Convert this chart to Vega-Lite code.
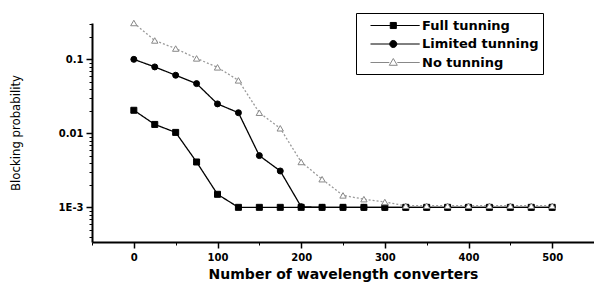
{
  "$schema": "https://vega.github.io/schema/vega-lite/v6.json",
  "autosize": "none",
  "width": 502,
  "height": 219,
  "padding": {"left": 92, "top": 23, "right": 0, "bottom": 40},
  "background": "white",
  "config": {"view": {"stroke": null}, "font": "DejaVu Sans"},
  "data": {"values": [
    {"n": 0, "p": 0.0205, "s": "Full tunning"},
    {"n": 25, "p": 0.0132, "s": "Full tunning"},
    {"n": 50, "p": 0.0103, "s": "Full tunning"},
    {"n": 75, "p": 0.0041, "s": "Full tunning"},
    {"n": 100, "p": 0.0015, "s": "Full tunning"},
    {"n": 125, "p": 0.001, "s": "Full tunning"},
    {"n": 150, "p": 0.001, "s": "Full tunning"},
    {"n": 175, "p": 0.001, "s": "Full tunning"},
    {"n": 200, "p": 0.001, "s": "Full tunning"},
    {"n": 225, "p": 0.001, "s": "Full tunning"},
    {"n": 250, "p": 0.001, "s": "Full tunning"},
    {"n": 275, "p": 0.001, "s": "Full tunning"},
    {"n": 300, "p": 0.001, "s": "Full tunning"},
    {"n": 325, "p": 0.001, "s": "Full tunning"},
    {"n": 350, "p": 0.001, "s": "Full tunning"},
    {"n": 375, "p": 0.001, "s": "Full tunning"},
    {"n": 400, "p": 0.001, "s": "Full tunning"},
    {"n": 425, "p": 0.001, "s": "Full tunning"},
    {"n": 450, "p": 0.001, "s": "Full tunning"},
    {"n": 475, "p": 0.001, "s": "Full tunning"},
    {"n": 500, "p": 0.001, "s": "Full tunning"},
    {"n": 0, "p": 0.1, "s": "Limited tunning"},
    {"n": 25, "p": 0.079, "s": "Limited tunning"},
    {"n": 50, "p": 0.061, "s": "Limited tunning"},
    {"n": 75, "p": 0.047, "s": "Limited tunning"},
    {"n": 100, "p": 0.025, "s": "Limited tunning"},
    {"n": 125, "p": 0.019, "s": "Limited tunning"},
    {"n": 150, "p": 0.005, "s": "Limited tunning"},
    {"n": 175, "p": 0.0031, "s": "Limited tunning"},
    {"n": 200, "p": 0.00102, "s": "Limited tunning"},
    {"n": 225, "p": 0.001, "s": "Limited tunning"},
    {"n": 250, "p": 0.001, "s": "Limited tunning"},
    {"n": 275, "p": 0.001, "s": "Limited tunning"},
    {"n": 300, "p": 0.001, "s": "Limited tunning"},
    {"n": 325, "p": 0.001, "s": "Limited tunning"},
    {"n": 350, "p": 0.001, "s": "Limited tunning"},
    {"n": 375, "p": 0.001, "s": "Limited tunning"},
    {"n": 400, "p": 0.001, "s": "Limited tunning"},
    {"n": 425, "p": 0.001, "s": "Limited tunning"},
    {"n": 450, "p": 0.001, "s": "Limited tunning"},
    {"n": 475, "p": 0.001, "s": "Limited tunning"},
    {"n": 500, "p": 0.001, "s": "Limited tunning"},
    {"n": 0, "p": 0.31, "s": "No tunning"},
    {"n": 25, "p": 0.18, "s": "No tunning"},
    {"n": 50, "p": 0.14, "s": "No tunning"},
    {"n": 75, "p": 0.103, "s": "No tunning"},
    {"n": 100, "p": 0.078, "s": "No tunning"},
    {"n": 125, "p": 0.052, "s": "No tunning"},
    {"n": 150, "p": 0.019, "s": "No tunning"},
    {"n": 175, "p": 0.0117, "s": "No tunning"},
    {"n": 200, "p": 0.0041, "s": "No tunning"},
    {"n": 225, "p": 0.0024, "s": "No tunning"},
    {"n": 250, "p": 0.00145, "s": "No tunning"},
    {"n": 275, "p": 0.00129, "s": "No tunning"},
    {"n": 300, "p": 0.00118, "s": "No tunning"},
    {"n": 325, "p": 0.00105, "s": "No tunning"},
    {"n": 350, "p": 0.00105, "s": "No tunning"},
    {"n": 375, "p": 0.00105, "s": "No tunning"},
    {"n": 400, "p": 0.00105, "s": "No tunning"},
    {"n": 425, "p": 0.00105, "s": "No tunning"},
    {"n": 450, "p": 0.00105, "s": "No tunning"},
    {"n": 475, "p": 0.00105, "s": "No tunning"},
    {"n": 500, "p": 0.00105, "s": "No tunning"}
  ]},
  "resolve": {"axis": {"x": "independent", "y": "independent"}, "scale": {"shape": "independent", "fill": "independent", "stroke": "independent"}},
  "layer": [
    {
      "mark": {"type": "line", "strokeWidth": 1.3},
      "encoding": {
        "x": {"field": "n", "type": "quantitative", "scale": {"domain": [-50, 550], "nice": false, "zero": false},
          "axis": {"orient": "bottom", "values": [0, 100, 200, 300, 400, 500], "title": "Number of wavelength converters", "titleFont": "DejaVu Sans", "titleFontSize": 14, "titleFontWeight": "bold", "titlePadding": 5, "titleColor": "black",
            "labelFont": "DejaVu Sans", "labelFontSize": 10, "labelFontWeight": "bold", "labelColor": "black", "labelPadding": 4, "domainColor": "black", "domainWidth": 2, "tickColor": "black", "tickWidth": 1.5, "tickSize": 6, "grid": false}},
        "y": {"field": "p", "type": "quantitative", "scale": {"type": "log", "domain": [0.00034, 0.31], "nice": false},
          "axis": {"orient": "left", "values": [0.001, 0.01, 0.1], "labelExpr": "datum.value < 0.005 ? '1E-3' : datum.value < 0.05 ? '0.01' : '0.1'", "title": "Blocking probability", "titleFont": "DejaVu Sans Condensed", "titleFontSize": 13, "titleFontWeight": "normal", "titleColor": "black", "titlePadding": 36,
            "labelFont": "DejaVu Sans", "labelFontSize": 10, "labelFontWeight": "bold", "labelColor": "black", "labelPadding": 3, "domainColor": "black", "domainWidth": 2, "tickColor": "black", "tickWidth": 1.5, "tickSize": 6, "grid": false}},
        "detail": {"field": "s", "type": "nominal"},
        "color": {"condition": {"test": "datum.s == 'No tunning'", "value": "#9a9a9a"}, "value": "black"},
        "strokeDash": {"condition": {"test": "datum.s == 'No tunning'", "value": [2, 2]}, "value": [1, 0]}
      }
    },
    {
      "mark": {"type": "point", "strokeWidth": 1, "opacity": 1, "filled": false},
      "encoding": {
        "x": {"field": "n", "type": "quantitative", "axis": {"orient": "bottom", "values": [-50, 50, 150, 250, 350, 450, 550], "labels": false, "title": null, "domain": false, "tickColor": "black", "tickSize": 3, "tickWidth": 1, "grid": false}},
        "y": {"field": "p", "type": "quantitative", "axis": {"orient": "left", "values": [0.0004, 0.0005, 0.0006, 0.0007, 0.0008, 0.0009, 0.002, 0.003, 0.004, 0.005, 0.006, 0.007, 0.008, 0.009, 0.02, 0.03, 0.04, 0.05, 0.06, 0.07, 0.08, 0.09, 0.2, 0.3], "labels": false, "title": null, "domain": false, "tickColor": "black", "tickSize": 3, "tickWidth": 1, "grid": false}},
        "shape": {"field": "s", "type": "nominal", "scale": {"domain": ["Full tunning", "Limited tunning", "No tunning"], "range": ["square", "circle", "triangle-up"]}, "legend": null},
        "size": {"condition": {"test": "datum.s == 'No tunning'", "value": 40}, "value": 36},
        "fill": {"condition": {"test": "datum.s == 'No tunning'", "value": "white"}, "value": "black"},
        "stroke": {"condition": {"test": "datum.s == 'No tunning'", "value": "#888888"}, "value": "black"}
      }
    },
    {
      "transform": [{"filter": "false"}],
      "mark": {"type": "point", "strokeWidth": 1, "opacity": 1, "filled": false},
      "encoding": {
        "shape": {"field": "s", "type": "nominal", "scale": {"domain": ["Full tunning", "Limited tunning", "No tunning"], "range": [
          "M0.25,0H6.4M2.72,-0.38H3.48V0.38H2.72Z",
          "M0.25,0H6.4M2.66,0A0.44,0.44 0 1,1 3.54,0A0.44,0.44 0 1,1 2.66,0Z",
          "M0.25,0H2.6M3.6,0H6.4M3.1,-0.5L3.6,0.35L2.6,0.35Z"]},
          "legend": {"title": null, "orient": "none", "legendX": 264, "legendY": -10, "strokeColor": "black", "padding": 4, "fillColor": "white",
            "labelFont": "DejaVu Sans", "labelFontSize": 13, "labelFontWeight": "bold", "labelColor": "black", "labelOffset": 45, "rowPadding": 2.5, "symbolSize": 256, "symbolStrokeWidth": 1,
            "encode": {"legend": {"update": {"strokeWidth": {"value": 1.5}}}}}},
        "fill": {"field": "s", "type": "nominal", "scale": {"domain": ["Full tunning", "Limited tunning", "No tunning"], "range": ["black", "black", "white"]}},
        "stroke": {"field": "s", "type": "nominal", "scale": {"domain": ["Full tunning", "Limited tunning", "No tunning"], "range": ["black", "black", "#888888"]}}
      }
    }
  ]
}
